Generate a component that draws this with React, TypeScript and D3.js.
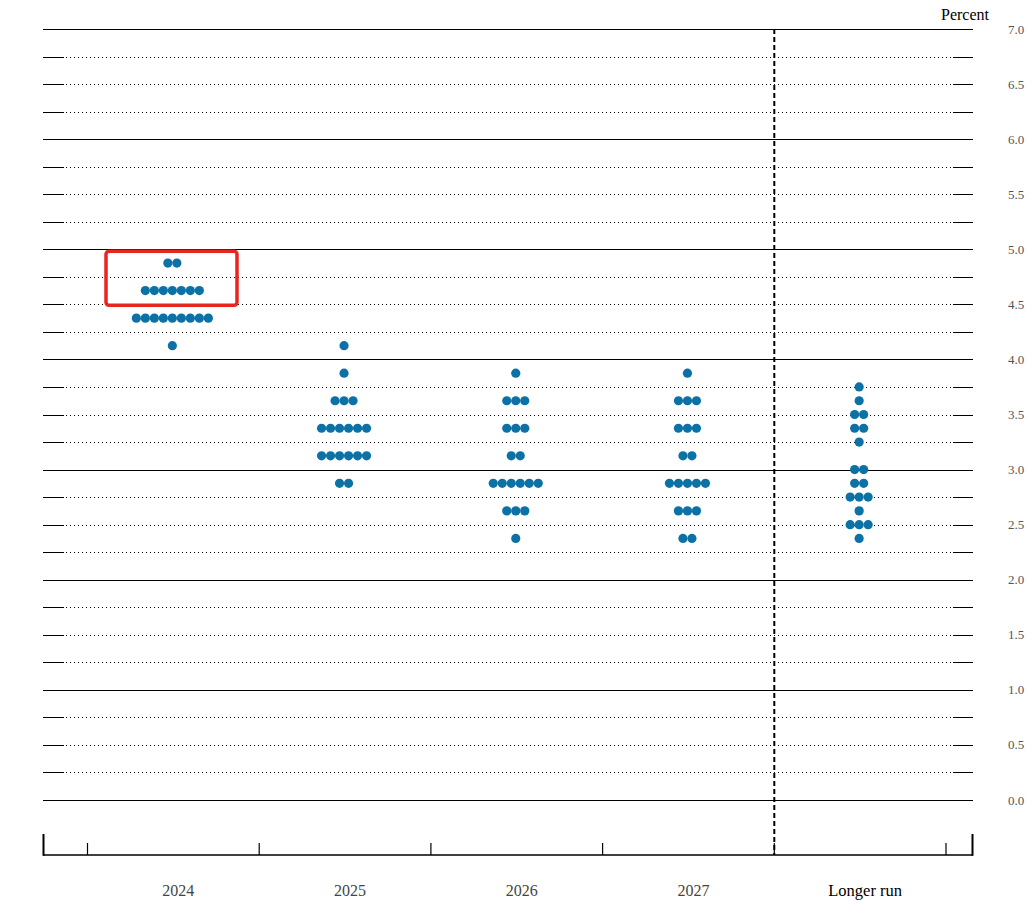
import React from "react";
import * as d3 from "d3";

const categories = ["2024", "2025", "2026", "2027", "Longer run"];
// each column: [rate, count]
const dots2024: [number, number][] = [[4.875, 2], [4.625, 7], [4.375, 9], [4.125, 1]];
const dots2025: [number, number][] = [[4.125, 1], [3.875, 1], [3.625, 3], [3.375, 6], [3.125, 6], [2.875, 2]];
const dots2026: [number, number][] = [[3.875, 1], [3.625, 3], [3.375, 3], [3.125, 2], [2.875, 6], [2.625, 3], [2.375, 1]];
const dots2027: [number, number][] = [[3.875, 1], [3.625, 3], [3.375, 3], [3.125, 2], [2.875, 5], [2.625, 3], [2.375, 2]];
const dotsLonger: [number, number][] = [[3.75, 1], [3.625, 1], [3.5, 2], [3.375, 2], [3.25, 1], [3.0, 2], [2.875, 2], [2.75, 3], [2.625, 1], [2.5, 3], [2.375, 1]];
const columns = [dots2024, dots2025, dots2026, dots2027, dotsLonger];
const yTickLabels = [0, 0.5, 1, 1.5, 2, 2.5, 3, 3.5, 4, 4.5, 5, 5.5, 6, 6.5, 7];
const gridValues = d3.range(0, 7.001, 0.25);
const highlight = { category: "2024", low: 4.5, high: 5.0 };

const W = 1028;
const H = 909;
const DOT = "#0c72a6";

export default function App() {
  const y = d3.scaleLinear().domain([0, 7]).range([800, 29]);
  const x = d3.scaleBand().domain(categories).range([87.5, 946]).paddingInner(0).paddingOuter(0);
  const left = 43;
  const right = 973;
  const step = 9;
  const r = 4.6;
  const sep = x("Longer run")!;
  const axisY = 855;
  const font = "'Liberation Serif', 'Times New Roman', serif";

  const boxX0 = x(highlight.category)! + 18.5;
  const boxX1 = x(highlight.category)! + 149.5;

  return (
    <svg width={W} height={H} style={{ position: "absolute", left: 0, top: 0 }}>
      <rect width={W} height={H} fill="#fff" />
      {gridValues.map((v) => {
        const yy = Math.round(y(v)) + 0.5;
        const major = Math.abs(v - Math.round(v)) < 1e-9;
        if (major) {
          return <line key={v} x1={left} x2={right} y1={yy} y2={yy} stroke="#000" strokeWidth={1} />;
        }
        return (
          <g key={v}>
            <line x1={left} x2={64} y1={yy} y2={yy} stroke="#000" strokeWidth={1} />
            <line x1={66} x2={952} y1={yy} y2={yy} stroke="#000" strokeWidth={1} strokeDasharray="1,3" />
            <line x1={953} x2={right} y1={yy} y2={yy} stroke="#000" strokeWidth={1} />
          </g>
        );
      })}
      {yTickLabels.map((v) => (
        <text key={v} x={1016} y={y(v) + 4.5} fontSize={13} fill="#555" textAnchor="middle" fontFamily={font}>
          {v.toFixed(1)}
        </text>
      ))}
      <text x={989} y={20} fontSize={16} fill="#000" textAnchor="end" fontFamily={font}>Percent</text>

      {/* dashed separator */}
      <line x1={sep} x2={sep} y1={29} y2={axisY} stroke="#000" strokeWidth={2} strokeDasharray="5,3" />

      {/* bottom axis */}
      <line x1={left} x2={right} y1={axisY} y2={axisY} stroke="#000" strokeWidth={1.5} />
      <line x1={left + 0.5} x2={left + 0.5} y1={834} y2={axisY + 0.75} stroke="#000" strokeWidth={2} />
      <line x1={right - 0.5} x2={right - 0.5} y1={834} y2={axisY + 0.75} stroke="#000" strokeWidth={2} />
      {[...categories.map((c) => x(c)!), 946].map((t, i) => (
        <line key={i} x1={t} x2={t} y1={843} y2={axisY} stroke="#000" strokeWidth={1.2} />
      ))}
      {categories.map((c) => (
        <text key={c} x={x(c)! + x.bandwidth() / 2 + 5} y={896} fontSize={c === "Longer run" ? 16.5 : 16} textAnchor="middle"
          fill={c === "Longer run" ? "#000" : "#444"} fontFamily={font}>
          {c}
        </text>
      ))}

      {/* dots */}
      {columns.map((col, ci) => {
        const cx = x(categories[ci])! + x.bandwidth() / 2 - 1;
        return (
          <g key={ci}>
            {col.flatMap(([v, n]) =>
              d3.range(n).map((k) => (
                <circle key={`${v}-${k}`} cx={cx + (k - (n - 1) / 2) * step} cy={y(v)} r={r} fill={DOT} />
              ))
            )}
          </g>
        );
      })}

      {/* highlight box */}
      <rect x={boxX0} y={y(highlight.high) + 2} width={boxX1 - boxX0} height={y(highlight.low) - y(highlight.high) - 1}
        fill="none" stroke="#e8261f" strokeWidth={3.5} rx={3} />
    </svg>
  );
}
